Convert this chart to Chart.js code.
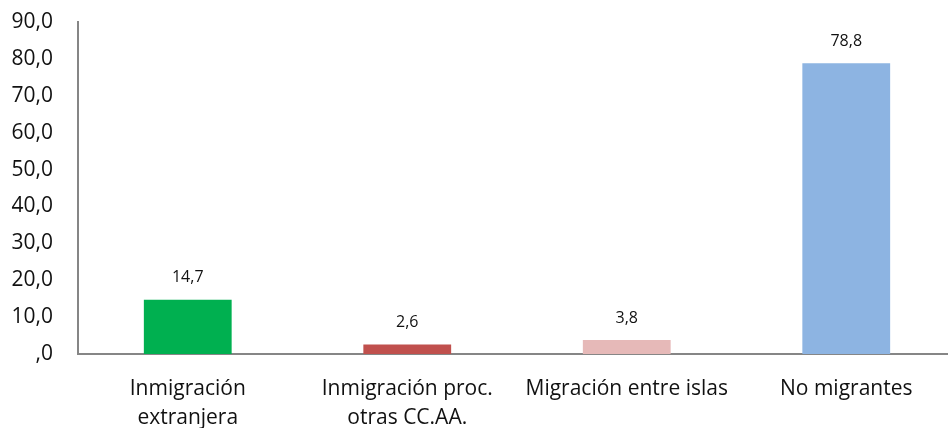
<!DOCTYPE html>
<html>
<head>
<meta charset="utf-8">
<script src="https://cdn.jsdelivr.net/npm/chart.js@4"></script>
<style>
  html, body { margin: 0; padding: 0; background: #fff; overflow: hidden; }
  #wrap { width: 958px; height: 428px; }
</style>
</head>
<body>
<div id="wrap"><canvas id="grafico"></canvas></div>
<script>
var categorias = [
    ['Inmigración', 'extranjera'],
    ['Inmigración proc.', 'otras CC.AA.'],
    'Migración entre islas',
    'No migrantes'
];
var valores = [14.7, 2.6, 3.8, 78.8];
var colores = ['#00b050', '#c0504d', '#e6b9b8', '#8db4e2'];

function formatoComa(v) {
    if (v === 0) return ',0';
    return v.toFixed(1).replace('.', ',');
}

// etiquetas encima de las barras
var etiquetasBarras = {
    id: 'etiquetasBarras',
    afterDatasetsDraw: function (chart) {
        var ctx = chart.ctx;
        var meta = chart.getDatasetMeta(0);
        ctx.save();
        ctx.font = '16px "Open Sans"';
        ctx.fillStyle = '#111';
        ctx.textAlign = 'center';
        ctx.textBaseline = 'middle';
        meta.data.forEach(function (bar, i) {
            ctx.fillText(formatoComa(valores[i]), bar.x, bar.y - 22);
        });
        ctx.restore();
    }
};

var ctx = document.getElementById('grafico').getContext('2d');
var chart = new Chart(ctx, {
    type: 'bar',
    data: {
        labels: categorias,
        datasets: [{
            data: valores,
            backgroundColor: colores,
            categoryPercentage: 1,
            barPercentage: 0.4
        }]
    },
    options: {
        responsive: true,
        maintainAspectRatio: false,
        animation: false,
        layout: { padding: { top: 22, right: 2, left: 0, bottom: 0 } },
        plugins: {
            legend: { display: false },
            tooltip: { enabled: false }
        },
        scales: {
            x: {
                grid: { display: false, drawTicks: false },
                border: { display: true, color: '#868686', width: 2 },
                ticks: {
                    color: '#111',
                    font: { family: 'Open Sans', size: 21, lineHeight: 1.35 },
                    padding: 21,
                    maxRotation: 0,
                    autoSkip: false
                },
                afterFit: function (scale) { scale.height = 74; }
            },
            y: {
                min: 0,
                max: 90,
                grid: { display: false, drawTicks: false },
                border: { display: true, color: '#868686', width: 2 },
                ticks: {
                    stepSize: 10,
                    color: '#111',
                    font: { family: 'Open Sans', size: 21 },
                    padding: 25,
                    callback: function (v) { return formatoComa(v); }
                },
                afterFit: function (scale) {
                    scale.width = 78;
                    scale.paddingTop = 0;
                    scale.paddingBottom = 0;
                }
            }
        }
    },
    plugins: [etiquetasBarras]
});
</script>
</body>
</html>
